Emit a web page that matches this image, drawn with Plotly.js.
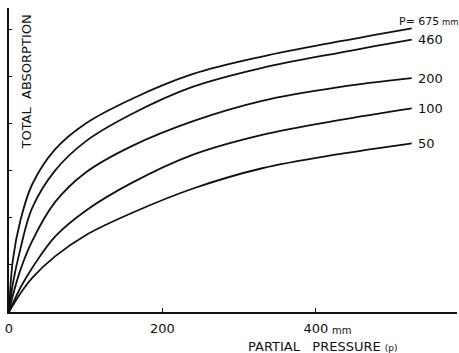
<!DOCTYPE html>
<html>
<head>
<meta charset="utf-8">
<script src="https://cdn.plot.ly/plotly-3.0.1.min.js"></script>
<style>
  html, body { margin: 0; padding: 0; background: #fff; }
  #chart { width: 459px; height: 353px; }
</style>
</head>
<body>
<div id="chart"></div>
<script>
// Partial pressure p (mm) at which each curve is sampled
const partialPressure = [0, 5, 15, 30, 60, 100, 160, 240, 330, 430, 525];

// Total absorption for each total pressure P
const absP675 = [0, 1.1, 1.95, 2.7, 3.45, 4.0, 4.52, 5.05, 5.42, 5.74, 6.02];
const absP460 = [0, 0.6, 1.35, 2.2, 3.0, 3.62, 4.2, 4.78, 5.18, 5.5, 5.78];
const absP200 = [0, 0.35, 0.9, 1.5, 2.33, 2.96, 3.52, 4.05, 4.48, 4.77, 4.96];
const absP100 = [0, 0.18, 0.52, 0.93, 1.6, 2.15, 2.74, 3.34, 3.76, 4.07, 4.32];
const absP50  = [0, 0.14, 0.4, 0.72, 1.18, 1.63, 2.1, 2.62, 3.05, 3.35, 3.58];

const curveLabels = ['675', '460', '200', '100', '50'];
const curveSeries = [absP675, absP460, absP200, absP100, absP50];

const xTickVals = [0, 200, 400];
const xTickText = ['0', '200', '400'];
const yTickVals = [0, 1, 2, 3, 4, 5, 6];

const FONT = 'DejaVu Sans, sans-serif';
const INK = '#111';

const traces = curveSeries.map((ys, i) => ({
  x: partialPressure,
  y: ys,
  type: 'scatter',
  mode: 'lines',
  name: 'P=' + curveLabels[i],
  line: { color: INK, width: 1.8, shape: 'spline', smoothing: 1 },
  hoverinfo: 'skip'
}));

const lastIdx = partialPressure.length - 1;
const xEnd = partialPressure[lastIdx];

const annotations = curveSeries.map((ys, i) => {
  if (i === 0) {
    return {
      x: xEnd, y: ys[lastIdx], xref: 'x', yref: 'y',
      text: 'P= ' + curveLabels[i] + '<span style="font-size:8.5px"> mm</span>',
      showarrow: false, xanchor: 'left', yanchor: 'middle',
      xshift: -15, yshift: 7,
      font: { family: FONT, size: 11, color: INK }
    };
  }
  return {
    x: xEnd, y: ys[lastIdx], xref: 'x', yref: 'y',
    text: curveLabels[i],
    showarrow: false, xanchor: 'left', yanchor: 'middle',
    xshift: 4, yshift: 0,
    font: { family: FONT, size: 13, color: INK }
  };
});

// unit after the 400 tick
annotations.push({
  x: 400, y: 0, xref: 'x', yref: 'paper',
  text: 'mm', showarrow: false, xanchor: 'left', yanchor: 'middle',
  xshift: 14, yshift: -18,
  font: { family: FONT, size: 10, color: INK }
});

// axis titles
annotations.push({
  x: 409, y: 0, xref: 'x', yref: 'paper',
  text: 'PARTIAL&nbsp;&nbsp;&nbsp;PRESSURE <span style="font-size:9px">(p)</span>',
  showarrow: false, xanchor: 'center', yanchor: 'middle',
  yshift: -34,
  font: { family: FONT, size: 13, color: INK }
});
annotations.push({
  x: 0, y: 1, xref: 'paper', yref: 'paper',
  text: 'TOTAL  ABSORPTION', textangle: -90,
  showarrow: false, xanchor: 'center', yanchor: 'top',
  xshift: 17, yshift: -5,
  font: { family: FONT, size: 13, color: INK }
});

const layout = {
  width: 459,
  height: 353,
  margin: { l: 9, r: 2, t: 8, b: 41, pad: 0 },
  paper_bgcolor: '#fff',
  plot_bgcolor: '#fff',
  showlegend: false,
  xaxis: {
    range: [0, 584],
    showgrid: false, zeroline: false,
    showline: true, linecolor: INK, linewidth: 2,
    ticks: 'inside', ticklen: 4, tickwidth: 1.2, tickcolor: INK,
    tickvals: xTickVals, ticktext: xTickText,
    tickfont: { family: FONT, size: 13, color: INK },
    ticklabelstandoff: 3,
    fixedrange: true
  },
  yaxis: {
    range: [0, 6.45],
    showgrid: false, zeroline: false,
    showline: true, linecolor: INK, linewidth: 2,
    ticks: 'inside', ticklen: 3, tickwidth: 1.2, tickcolor: INK,
    tickvals: yTickVals, showticklabels: false,
    fixedrange: true
  },
  annotations: annotations
};

Plotly.newPlot('chart', traces, layout, { staticPlot: true, displayModeBar: false });
</script>
</body>
</html>
